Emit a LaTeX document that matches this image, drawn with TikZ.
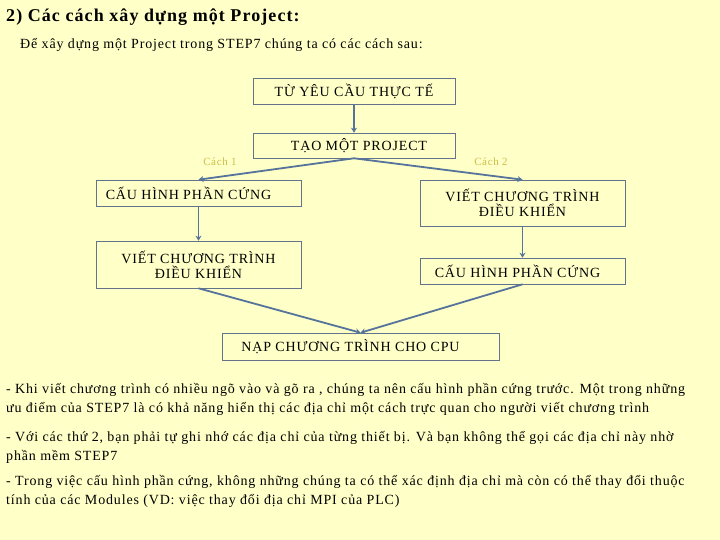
\documentclass[tikz,border=0pt]{standalone}
\usepackage{fontspec}
\setmainfont{Liberation Serif}[LetterSpace=6]
\usetikzlibrary{arrows.meta, positioning}
\definecolor{bgyellow}{RGB}{255,255,200}
\definecolor{boxline}{RGB}{100,115,140}
\definecolor{arrowblue}{RGB}{85,115,155}
\definecolor{labelyellow}{RGB}{205,190,70}

\begin{document}
\begin{tikzpicture}[
		x=1pt, y=-1pt,
		every node/.style={font=\fontsize{14}{15}\selectfont},
		stepbox/.style={draw=boxline, line width=0.6pt, minimum height=26pt, align=center, inner sep=2pt},
		link/.style={draw=arrowblue, line width=1.8pt, -{Stealth[length=5pt, width=6pt]}},
		way/.style={text=labelyellow, font=\fontsize{11}{12}\selectfont},
		para/.style={anchor=north west, align=left, inner sep=0pt, font=\fontsize{14}{19}\selectfont}
		]
	
	% Background
	\fill[bgyellow] (0, 0) rectangle (720, 540);
	\useasboundingbox (0, 0) rectangle (720, 540);
	
	% Title
	\node[anchor=west, inner sep=0pt, font=\fontsize{18}{20}\selectfont\bfseries] (title) at (6, 17) {2) Các cách xây dựng một Project:};
	\node[anchor=west, inner sep=0pt] (intro) at (20, 45) {Để xây dựng một Project trong STEP7 chúng ta có các cách sau:};
	
	% Boxes
	\node[stepbox, minimum width=202pt] (need) at (354, 91) {TỪ YÊU CẦU THỰC TẾ};
	\node[stepbox, minimum width=202pt, minimum height=25pt] (project) at (354, 145.5) {\hspace*{10pt}TẠO MỘT PROJECT};
	\node[stepbox, minimum width=205pt] (hw1) at (198.5, 193) {CẤU HÌNH PHẦN CỨNG\hspace*{20pt}};
	\node[stepbox, minimum width=205pt, minimum height=47pt] (prog1) at (198.5, 264.5) {VIẾT CHƯƠNG TRÌNH\\ĐIỀU KHIỂN};
	\node[stepbox, minimum width=205pt, minimum height=46pt] (prog2) at (522.5, 203) {VIẾT CHƯƠNG TRÌNH\\ĐIỀU KHIỂN};
	\node[stepbox, minimum width=205pt] (hw2) at (522.5, 271) {CẤU HÌNH PHẦN CỨNG\hspace*{10pt}};
	\node[stepbox, minimum width=277pt, minimum height=27pt] (load) at (360.5, 346.5) {NẠP CHƯƠNG TRÌNH CHO CPU\hspace*{20pt}};
	
	% Way labels
	\node[way] (way1) at (220, 162) {Cách 1};
	\node[way] (way2) at (491, 162) {Cách 2};
	
	% Connectors
	\draw[link] (need.south) -- (project.north);
	\draw[link] (project.south) -- (hw1.north);
	\draw[link] (project.south) -- (prog2.north);
	\draw[link] (hw1.south) -- (prog1.north);
	\draw[link] (prog2.south) -- (hw2.north);
	\draw[link] (prog1.south) -- (load.north);
	\draw[link] (hw2.south) -- (load.north);
	
	% Notes
	\node[para] (note1) at (6, 383) {- Khi viết chương trình có nhiều ngõ vào và gõ ra , chúng ta nên cấu hình phần cứng trước. Một trong những\\ưu điểm của STEP7 là có khả năng hiển thị các địa chỉ một cách trực quan cho người viết chương trình};
	\node[para] (note2) at (6, 431) {- Với các thứ 2, bạn phải tự ghi nhớ các địa chỉ của từng thiết bị. Và bạn không thể gọi các địa chỉ này nhờ\\phần mềm STEP7};
	\node[para] (note3) at (6, 475) {- Trong việc cấu hình phần cứng, không những chúng ta có thể xác định địa chỉ mà còn có thể thay đổi thuộc\\tính của các Modules (VD: việc thay đổi địa chỉ MPI của PLC)};

\end{tikzpicture}
\end{document}
